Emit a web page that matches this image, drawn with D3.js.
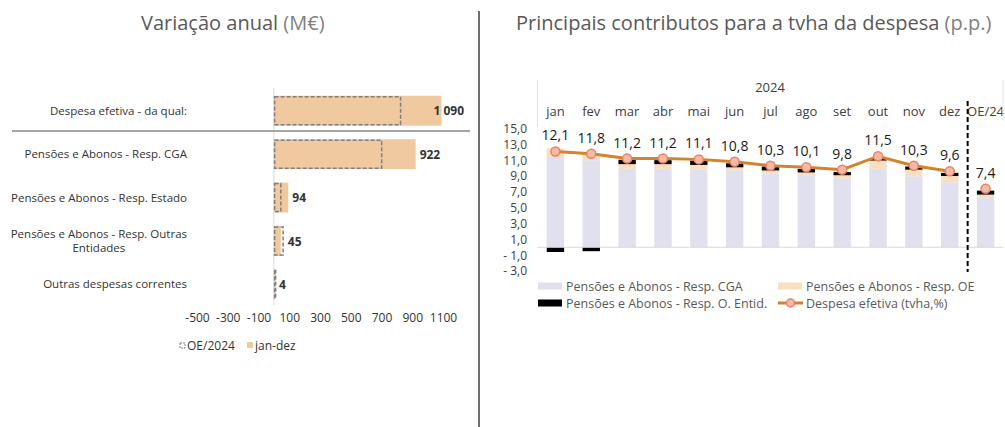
<!DOCTYPE html>
<html>
<head>
<meta charset="utf-8">
<title>Variação anual / Principais contributos</title>
<script src="https://cdn.jsdelivr.net/npm/d3@7"></script>
<style>
  body { margin: 0; background: #fff; }
  text { font-family: "Open Sans", sans-serif; }
</style>
</head>
<body>
<script>
// ---- left chart data (M€)
var leftCats = [["Despesa efetiva - da qual:"], ["Pensões e Abonos - Resp. CGA"], ["Pensões e Abonos - Resp. Estado"],
                ["Pensões e Abonos - Resp. Outras", "Entidades"], ["Outras despesas correntes"]];
var janDez = [1090, 922, 94, 45, 4];
var oe2024 = [829, 706, 50, 65, 8];
var leftTicks = [-500, -300, -100, 100, 300, 500, 700, 900, 1100];

// ---- right chart data (p.p.)
var months = ["jan", "fev", "mar", "abr", "mai", "jun", "jul", "ago", "set", "out", "nov", "dez", "OE/24"];
var cga    = [11.4, 11.0, 9.9, 9.9, 9.85, 9.7, 9.3, 9.1, 8.7, 9.9, 8.95, 8.2, 6.3];
var oe     = [1.1, 0.9, 0.6, 0.6, 0.55, 0.4, 0.4, 0.35, 0.4, 1.05, 0.85, 0.8, 0.35];
var oEntid = [-0.6, -0.5, 0.55, 0.5, 0.55, 0.5, 0.5, 0.45, 0.4, 0.25, 0.4, 0.4, 0.5];
var despesa = [12.1, 11.8, 11.2, 11.2, 11.1, 10.8, 10.3, 10.1, 9.8, 11.5, 10.3, 9.6, 7.4];
var rightTicks = [15, 13, 11, 9, 7, 5, 3, 1, -1, -3];

var width = 1005, height = 427;
var svg = d3.select("body").append("svg").attr("width", width).attr("height", height);

// ================= titles & divider
function title(x, main, unit) {
  var t = svg.append("text").attr("x", x).attr("y", 30).style("font-size", "20px").attr("fill", "#595959");
  t.append("tspan").text(main);
  t.append("tspan").attr("fill", "#7f7f7f").text(" " + unit);
}
title(141, "Variação anual", "(M€)");
title(516, "Principais contributos para a tvha da despesa", "(p.p.)");

svg.append("line").attr("x1", 479).attr("x2", 479).attr("y1", 11).attr("y2", height)
  .attr("stroke", "#6f6f6f").attr("stroke-width", 2);

// ================= left chart
var xL = d3.scaleLinear().domain([-500, 1100]).range([197, 443]);
var yL = d3.scaleBand().domain(d3.range(leftCats.length)).range([89, 306.2]).paddingInner(0.31).paddingOuter(0.155);
var barCol = "#f0c9a0";

// zero line
svg.append("line").attr("x1", xL(0)).attr("x2", xL(0)).attr("y1", 88).attr("y2", 305)
  .attr("stroke", "#d9d9d9").attr("stroke-width", 1);

svg.selectAll("rect.jd").data(janDez).enter().append("rect").attr("class", "jd")
  .attr("x", xL(0)).attr("y", function(d, i) { return yL(i); })
  .attr("width", function(d) { return xL(d) - xL(0); })
  .attr("height", yL.bandwidth()).attr("fill", barCol);

svg.selectAll("rect.oe").data(oe2024).enter().append("rect").attr("class", "oe")
  .attr("x", xL(0) + 0.75).attr("y", function(d, i) { return yL(i) + 1; })
  .attr("width", function(d) { return Math.max(xL(d) - xL(0) - 1.5, 1); })
  .attr("height", yL.bandwidth() - 2)
  .attr("fill", "none").attr("stroke", "#7f7f7f").attr("stroke-width", 1.5).attr("stroke-dasharray", "4,2");

// value labels
svg.selectAll("text.val").data(janDez).enter().append("text").attr("class", "val")
  .attr("y", function(d, i) { return yL(i) + yL.bandwidth() / 2 + 4.5; })
  .style("font-size", "12px").style("font-weight", "bold").attr("fill", "#333")
  .text(function(d) { return d3.format(",")(d).replace(",", " "); })
  .each(function(d, i) {
    var x = Math.max(xL(d), xL(oe2024[i])) + 4;
    var w = this.getComputedTextLength();
    if (x + w > 464) x = 464 - w;
    d3.select(this).attr("x", x);
  });

// category labels
var catSize = "11.5px";
leftCats.forEach(function(lines, i) {
  var cy = yL(i) + yL.bandwidth() / 2;
  if (lines.length === 1) {
    svg.append("text").attr("x", 187).attr("y", cy + 4).attr("text-anchor", "end")
      .style("font-size", catSize).attr("fill", "#333").text(lines[0]);
  } else {
    var t1 = svg.append("text").attr("x", 187).attr("y", cy - 3).attr("text-anchor", "end")
      .style("font-size", catSize).attr("fill", "#333").text(lines[0]);
    var w1 = t1.node().getComputedTextLength();
    svg.append("text").attr("x", 187 - w1 / 2).attr("y", cy + 11).attr("text-anchor", "middle")
      .style("font-size", catSize).attr("fill", "#333").text(lines[1]);
  }
});

// separator
svg.append("line").attr("x1", 12).attr("x2", 470).attr("y1", 131).attr("y2", 131)
  .attr("stroke", "#a6a6a6").attr("stroke-width", 2);

// x axis
var axL = svg.append("g").attr("transform", "translate(0,313)")
  .call(d3.axisBottom(xL).tickValues(leftTicks).tickSize(0).tickPadding(0)
    .tickFormat(function(d) { return String(d); }));
axL.select(".domain").remove();
axL.selectAll("text").style("font-size", "12px").style("font-family", "'Open Sans', sans-serif").attr("fill", "#333");

// legend
var lg = svg.append("g");
lg.append("rect").attr("x", 180).attr("y", 343).attr("width", 5).attr("height", 5)
  .attr("fill", "none").attr("stroke", "#7f7f7f").attr("stroke-width", 1).attr("stroke-dasharray", "2,1");
lg.append("text").attr("x", 187).attr("y", 350).style("font-size", "12px").attr("fill", "#333").text("OE/2024");
lg.append("rect").attr("x", 247).attr("y", 342).attr("width", 6).attr("height", 6).attr("fill", barCol);
lg.append("text").attr("x", 255).attr("y", 350).style("font-size", "12px").attr("fill", "#333").text("jan-dez");

// ================= right chart
var xR = d3.scaleBand().domain(months).range([537.5, 1003.5]).paddingInner(0.515).paddingOuter(0.2575);
var yR = d3.scaleLinear().domain([-3, 15]).range([271, 128.5]);
var cLav = "#e1e0ee", cPeach = "#f7dfc0", cBlack = "#000", cLine = "#d5822c";

// stacks
var segs = [];
months.forEach(function(m, i) {
  var pos = 0, neg = 0;
  [[cga[i], cLav], [oe[i], cPeach], [oEntid[i], cBlack]].forEach(function(s) {
    var v = s[0];
    if (v >= 0) { segs.push({ m: m, y0: pos, y1: pos + v, c: s[1] }); pos += v; }
    else { segs.push({ m: m, y0: neg + v, y1: neg, c: s[1] }); neg += v; }
  });
});

svg.selectAll("rect.seg").data(segs).enter().append("rect").attr("class", "seg")
  .attr("x", function(d) { return xR(d.m); }).attr("width", xR.bandwidth())
  .attr("y", function(d) { return yR(d.y1); })
  .attr("height", function(d) { return yR(d.y0) - yR(d.y1); })
  .attr("fill", function(d) { return d.c; });

// zero line
svg.append("line").attr("x1", 537.5).attr("x2", 1003.5).attr("y1", yR(0)).attr("y2", yR(0))
  .attr("stroke", "#d9d9d9").attr("stroke-width", 1);

// y axis
var axR = svg.append("g").attr("transform", "translate(527,0)")
  .call(d3.axisLeft(yR).tickValues(rightTicks).tickSize(0).tickPadding(0)
    .tickFormat(function(v) { return (v < 0 ? "- " : "") + Math.abs(v).toFixed(1).replace(".", ","); }));
axR.select(".domain").remove();
axR.selectAll("text").style("font-size", "12px").style("font-family", "'Open Sans', sans-serif").attr("fill", "#404040");

// category axis (top)
svg.selectAll("text.mon").data(months).enter().append("text").attr("class", "mon")
  .attr("x", function(d) { return xR(d) + xR.bandwidth() / 2; }).attr("y", 116)
  .attr("text-anchor", "middle").style("font-size", "13px").attr("fill", "#404040")
  .text(function(d) { return d; });
svg.append("text").attr("x", 770).attr("y", 92).attr("text-anchor", "middle")
  .style("font-size", "13px").attr("fill", "#404040").text("2024");
svg.append("line").attr("x1", 537.5).attr("x2", 537.5).attr("y1", 80).attr("y2", 127).attr("stroke", "#e3e3e3");
svg.append("line").attr("x1", 1003).attr("x2", 1003).attr("y1", 80).attr("y2", 121).attr("stroke", "#e3e3e3");

// dashed separator before OE/24
var sepX = xR("OE/24") - xR.step() * xR.paddingInner() / 2;
svg.append("line").attr("x1", sepX).attr("x2", sepX).attr("y1", 101).attr("y2", 272)
  .attr("stroke", "#000").attr("stroke-width", 2).attr("stroke-dasharray", "5,3");

// line (jan..dez), OE/24 as separate marker
var cx = function(d, i) { return xR(months[i]) + xR.bandwidth() / 2; };
var lineData = despesa.slice(0, 12);
svg.append("path").datum(lineData)
  .attr("d", d3.line().x(cx).y(function(d) { return yR(d); }))
  .attr("fill", "none").attr("stroke", cLine).attr("stroke-width", 3);

svg.selectAll("circle.pt").data(despesa).enter().append("circle").attr("class", "pt")
  .attr("cx", cx).attr("cy", function(d) { return yR(d); }).attr("r", 4.5)
  .attr("fill", "#f6b9a4").attr("stroke", "#e8826a").attr("stroke-width", 1.5);

svg.selectAll("text.pl").data(despesa).enter().append("text").attr("class", "pl")
  .attr("x", cx).attr("y", function(d) { return yR(d) - 11; })
  .attr("text-anchor", "middle").style("font-size", "14px").attr("fill", "#1a1a1a")
  .text(function(d) { return d.toFixed(1).replace(".", ","); });

// legend
var leg = [
  { x: 538, y: 286, t: "Pensões e Abonos - Resp. CGA", c: cLav },
  { x: 778, y: 286, t: "Pensões e Abonos - Resp. OE", c: cPeach },
  { x: 538, y: 303, t: "Pensões e Abonos - Resp. O. Entid.", c: cBlack },
  { x: 778, y: 303, t: "Despesa efetiva (tvha,%)", line: true }
];
leg.forEach(function(l) {
  if (l.line) {
    svg.append("line").attr("x1", l.x).attr("x2", l.x + 25).attr("y1", l.y).attr("y2", l.y)
      .attr("stroke", cLine).attr("stroke-width", 3);
    svg.append("circle").attr("cx", l.x + 12.5).attr("cy", l.y).attr("r", 4)
      .attr("fill", "#f6b9a4").attr("stroke", "#e8826a").attr("stroke-width", 1.5);
  } else {
    svg.append("rect").attr("x", l.x).attr("y", l.y - 3.5).attr("width", 24).attr("height", 7).attr("fill", l.c);
  }
  svg.append("text").attr("x", l.x + 28).attr("y", l.y + 4.5).style("font-size", "12.5px")
    .attr("fill", "#595959").text(l.t);
});
</script>
</body>
</html>
